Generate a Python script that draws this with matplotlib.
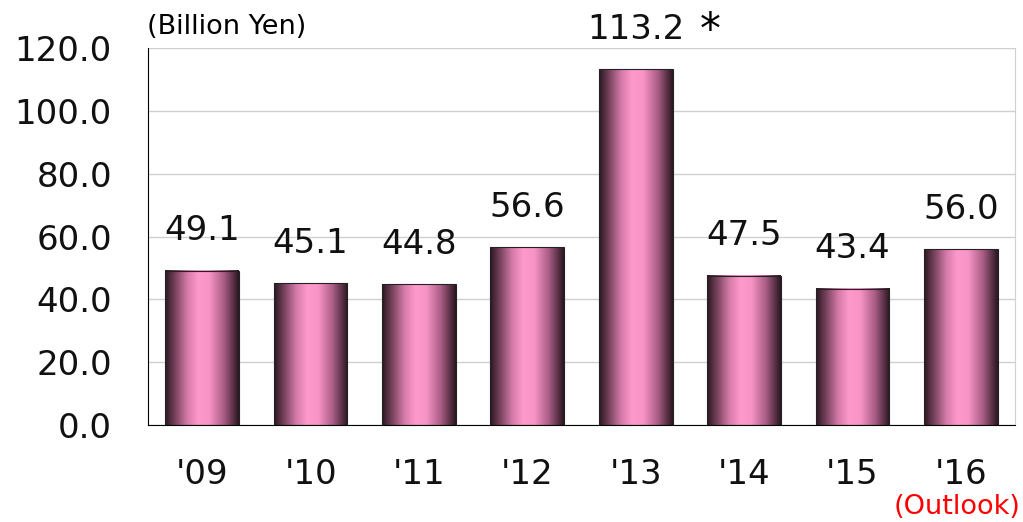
import numpy as np
import matplotlib
matplotlib.use('Agg')
import matplotlib.pyplot as plt
from matplotlib.colors import LinearSegmentedColormap

years = ["'09", "'10", "'11", "'12", "'13", "'14", "'15", "'16"]
values = [49.1, 45.1, 44.8, 56.6, 113.2, 47.5, 43.4, 56.0]
labels = ['49.1', '45.1', '44.8', '56.6', '113.2', '47.5', '43.4', '56.0']
yticks = [0, 20, 40, 60, 80, 100, 120]

plt.rcParams['font.family'] = ['DejaVu Sans']

fig = plt.figure(figsize=(10.23, 5.22), dpi=100)
ax = fig.add_axes([148/1023, 97/522, 867/1023, 377/522])

cmap = LinearSegmentedColormap.from_list('pinkbar', [
    (0.0, '#2a1620'), (0.12, '#6e3d55'), (0.30, '#d47aa8'),
    (0.45, '#ff99cc'), (0.60, '#f894c6'), (0.80, '#a85c84'), (1.0, '#2a1620')])
grad = np.linspace(0, 1, 256).reshape(1, -1)

w = 0.68
x = np.arange(len(years))
for xi, v, lab in zip(x, values, labels):
    ax.imshow(grad, cmap=cmap, aspect='auto', extent=[xi - w/2, xi + w/2, 0, v],
              zorder=2, interpolation='bilinear')
    ax.add_patch(plt.Rectangle((xi - w/2, 0), w, v, fill=False, edgecolor='#222222',
                               linewidth=0.8, zorder=3))
    ax.text(xi, v + 7.5, lab, ha='center', va='bottom', fontsize=24.5, color='#111111')

# asterisk next to the 2013 value
ax.text(4.69, 125.5, '*', ha='center', va='center', fontsize=30, clip_on=False)

ax.set_xlim(-0.5, len(years) - 0.5)
ax.set_ylim(0, 120)
ax.set_yticks(yticks)
ax.set_yticklabels(['{:.1f}'.format(t) for t in yticks], fontsize=24.5)
ax.set_xticks(x)
ax.set_xticklabels(years, fontsize=24.5)
ax.tick_params(axis='both', length=0, colors='#111111')
ax.tick_params(axis='x', pad=24)
ax.tick_params(axis='y', pad=26)
ax.yaxis.grid(True, color='#d0d0d0', linewidth=1)
ax.set_axisbelow(True)
ax.spines['top'].set_visible(False)
ax.spines['right'].set_color('#d0d0d0')
ax.spines['left'].set_color('black')
ax.spines['bottom'].set_color('black')

fig.text(147/1023, 1 - 27/522, '(Billion Yen)', ha='left', va='center', fontsize=19.5)
fig.text(1020/1023, 1 - 507/522, '(Outlook)', ha='right', va='center', fontsize=19.5, color='red')

plt.savefig('out.png', dpi=100)
